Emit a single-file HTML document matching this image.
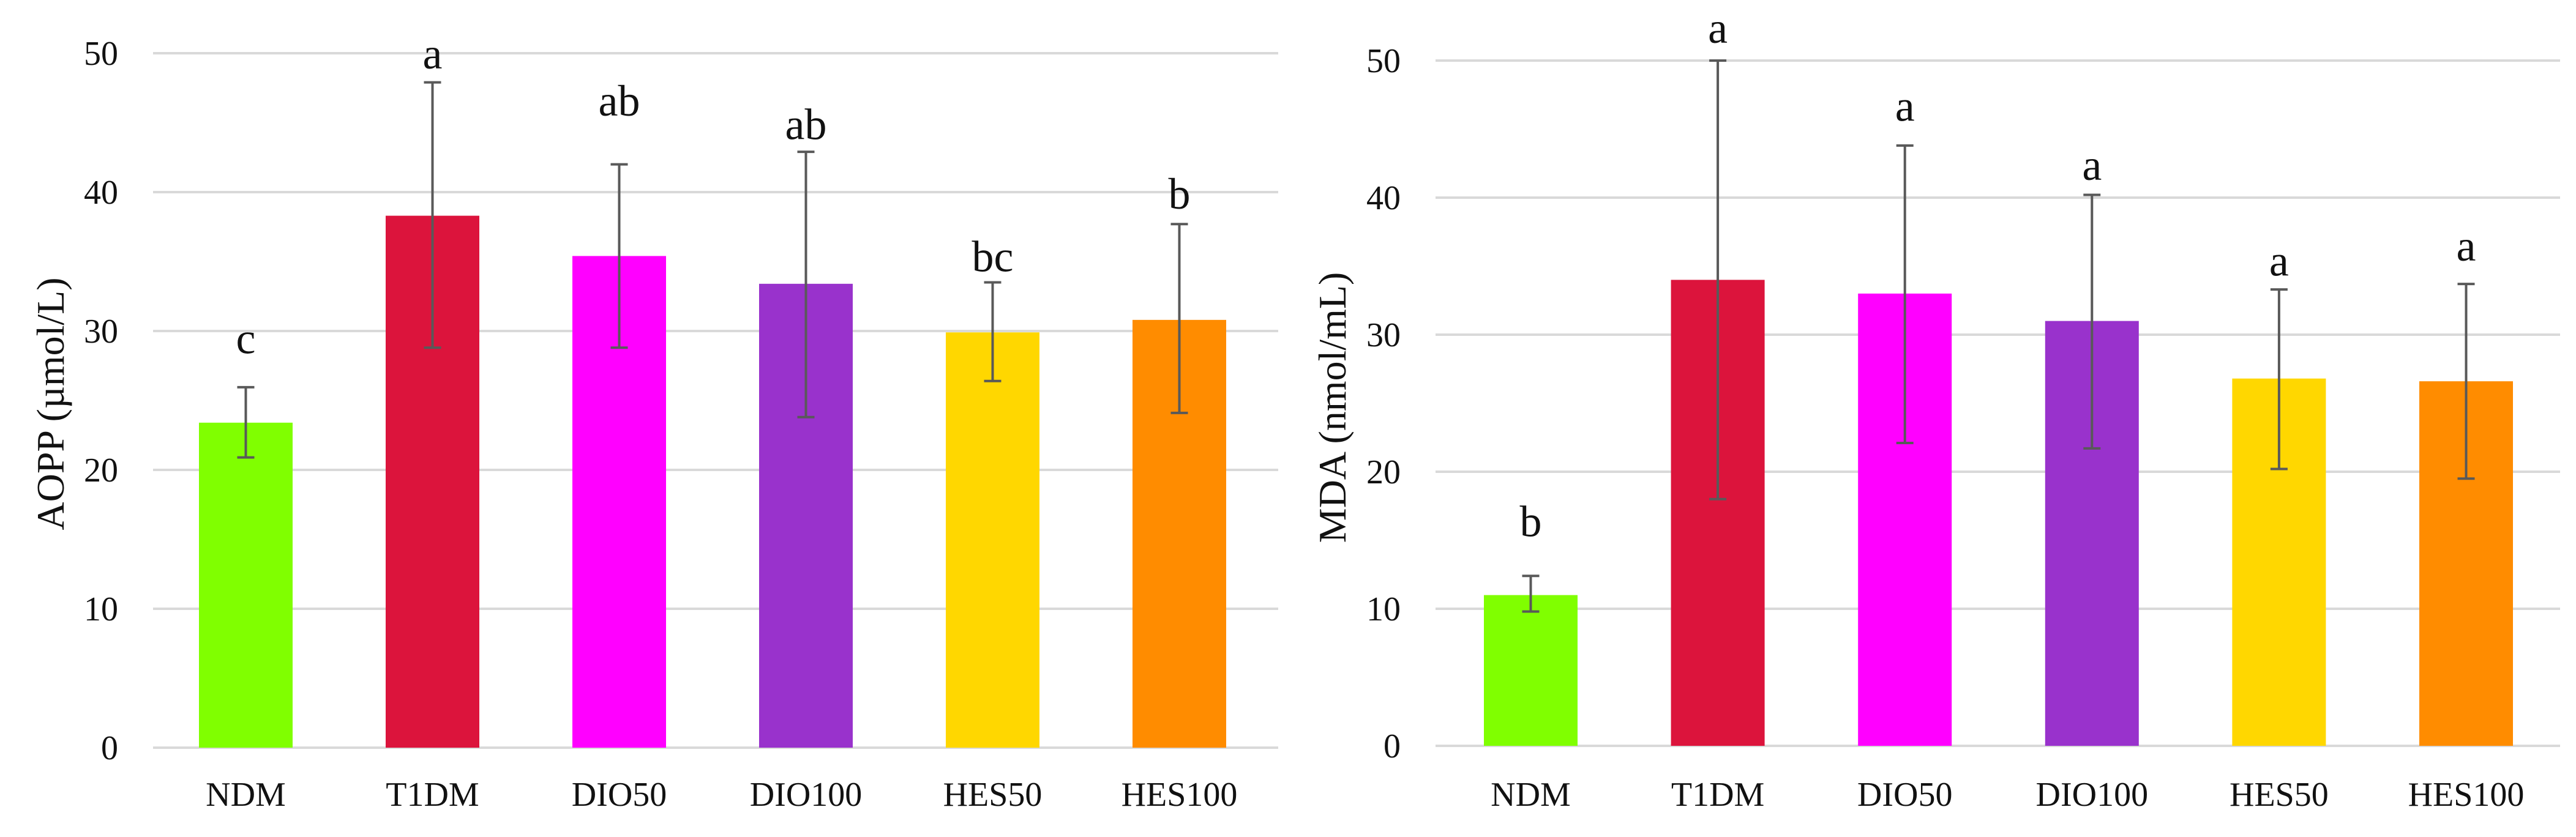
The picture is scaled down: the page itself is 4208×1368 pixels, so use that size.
<!DOCTYPE html>
<html><head><meta charset="utf-8">
<style>
html,body{margin:0;padding:0;background:#fff;}
svg{display:block;}
text{font-family:"Liberation Serif",serif;fill:#111;}
</style></head>
<body>
<svg id="chart" width="4208" height="1368" viewBox="0 0 4208 1368" xmlns="http://www.w3.org/2000/svg"></svg>
<script>
const categories = ["NDM","T1DM","DIO50","DIO100","HES50","HES100"];
const colors = ["#80ff00","#dc143c","#ff00ff","#9932cc","#ffd700","#ff8c00"];
const yTicks = [0,10,20,30,40,50];
const aoppValues = [23.4,38.3,35.4,33.4,29.9,30.8];
const aoppErrLow = [20.9,28.8,28.8,23.8,26.4,24.1];
const aoppErrHigh = [25.95,47.9,42.0,42.9,33.5,37.7];
const aoppLetters = ["c","a","ab","ab","bc","b"];
const aoppLetterY = [28.4,48.9,45.5,43.8,34.3,38.8];
const mdaValues = [11.0,34.0,33.0,31.0,26.8,26.6];
const mdaErrLow = [9.8,18.0,22.1,21.7,20.2,19.5];
const mdaErrHigh = [12.4,50.0,43.8,40.2,33.3,33.7];
const mdaLetters = ["b","a","a","a","a","a"];
const mdaLetterY = [15.3,51.3,45.6,41.3,34.3,35.4];

const svg = document.getElementById('chart');
const NS = 'http://www.w3.org/2000/svg';
function mk(tag, attrs, parent){
  const e = document.createElementNS(NS, tag);
  for (const k in attrs) e.setAttribute(k, attrs[k]);
  parent.appendChild(e);
  return e;
}

function drawPanel(cfg){
  const g = mk('g', {}, svg);
  
  
  const y = v => cfg.y0 - (v / 50) * (cfg.y0 - cfg.y50);
  const xLeft = i => cfg.bar0 + i * cfg.step;
  yTicks.forEach(t => {
    const gl = mk('line', {x1:cfg.gx1, x2:cfg.gx2, y1:y(t), y2:y(t), stroke:'#d9d9d9', 'stroke-width':4}, g);
    
    
    const tl = mk('text', {x:cfg.tickX, y:y(t)+19, 'text-anchor':'end', 'font-size':56}, g);
    tl.textContent = t;
    
    
  });
  categories.forEach((c, i) => {
    const x = xLeft(i), cx = x + cfg.bw / 2;
    const r = mk('rect', {x:x, y:y(cfg.values[i]), width:cfg.bw, height:y(0)-y(cfg.values[i]), fill:colors[i]}, g);
    
    
    const eg = mk('g', {stroke:'#595959', 'stroke-width':4}, g);
    
    
    mk('line', {x1:cx, x2:cx, y1:y(cfg.lo[i]), y2:y(cfg.hi[i])}, eg);
    mk('line', {x1:cx-14, x2:cx+14, y1:y(cfg.lo[i]), y2:y(cfg.lo[i])}, eg);
    mk('line', {x1:cx-14, x2:cx+14, y1:y(cfg.hi[i]), y2:y(cfg.hi[i])}, eg);
    const lt = mk('text', {x:cx, y:y(cfg.letterY[i]), 'text-anchor':'middle', 'font-size':72}, g);
    lt.textContent = cfg.letters[i];
    
    
    const cl = mk('text', {x:cx, y:1317, 'text-anchor':'middle', 'font-size':56}, g);
    cl.textContent = c;
    
    
  });
  const at = mk('text', {x:0, y:0, 'text-anchor':'middle', 'font-size':64, transform:'translate(' + cfg.titleX + ',' + cfg.titleY + ') rotate(-90)'}, g);
  at.textContent = cfg.title;
  
  
}

drawPanel({name:'aopp-chart', y0:1222, y50:87, gx1:250, gx2:2088, tickX:193, bar0:325, step:305, bw:153,
  values:aoppValues, lo:aoppErrLow, hi:aoppErrHigh, letters:aoppLetters, letterY:aoppLetterY,
  title:'AOPP (µmol/L)', titleX:104, titleY:660});
drawPanel({name:'mda-chart', y0:1219, y50:99, gx1:2345, gx2:4182, tickX:2288, bar0:2424, step:305.6, bw:153,
  values:mdaValues, lo:mdaErrLow, hi:mdaErrHigh, letters:mdaLetters, letterY:mdaLetterY,
  title:'MDA (nmol/mL)', titleX:2198, titleY:666});
</script>
</body></html>
